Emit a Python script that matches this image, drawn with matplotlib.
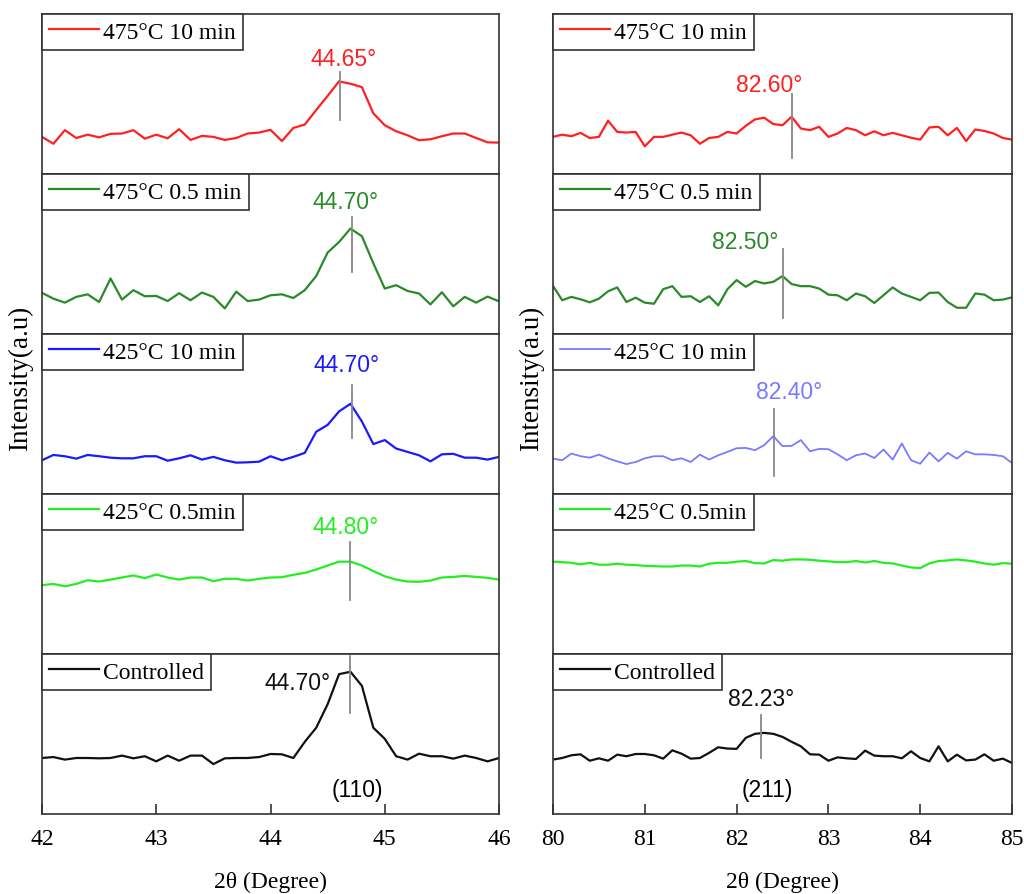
import numpy as np
import matplotlib
matplotlib.use("Agg")
import matplotlib.pyplot as plt

# 2-theta grids (0.1 degree steps)
theta_110 = np.round(np.arange(42.0, 46.0001, 0.1), 1)
theta_211 = np.round(np.arange(80.0, 85.0001, 0.1), 1)

labels = ["475°C 10 min", "475°C 0.5 min", "425°C 10 min", "425°C 0.5min", "Controlled"]

# intensities (arbitrary units, 0-100 per panel)
i110_475_10 = [23.2, 18.9, 27.4, 22.5, 24.6, 22.9, 25.1, 25.3, 27.4, 22.1, 24.6, 22.3, 28.0, 21.3,
               23.8, 23.2, 21.3, 22.5, 25.3, 25.9, 27.6, 20.6, 28.8, 30.9, 40.0, 48.8, 57.9, 56.4,
               54.3, 37.9, 30.5, 26.7, 24.2, 21.1, 21.7, 23.6, 25.3, 25.3, 22.5, 19.8, 19.6]
i110_475_05 = [25.7, 22.1, 19.6, 23.2, 24.8, 20.0, 34.7, 21.5, 27.4, 23.6, 23.8, 20.6, 25.5, 21.1,
               25.9, 23.2, 16.0, 26.5, 20.6, 21.5, 24.2, 24.8, 22.5, 27.4, 36.2, 50.9, 57.5, 65.9,
               61.1, 44.2, 28.4, 30.5, 26.9, 25.3, 18.5, 26.1, 17.3, 23.2, 19.6, 23.4, 20.4]
i110_425_10 = [21.1, 24.4, 23.6, 22.1, 24.4, 23.6, 22.7, 22.3, 22.3, 23.6, 23.6, 20.8, 22.3, 24.2,
               21.5, 23.2, 21.1, 19.6, 19.8, 20.2, 23.6, 21.1, 23.2, 25.7, 38.9, 43.2, 51.6, 56.4,
               45.3, 31.2, 33.7, 28.4, 26.3, 24.2, 20.4, 24.8, 25.1, 22.7, 22.7, 21.5, 23.2]
i110_425_05 = [43.0, 43.8, 42.3, 43.8, 46.1, 45.3, 46.5, 47.8, 49.1, 47.4, 49.7, 47.8, 46.5, 47.8,
               47.8, 45.5, 47.0, 47.0, 45.9, 47.0, 47.8, 48.0, 49.5, 50.7, 52.8, 55.3, 57.7, 57.7,
               55.3, 51.8, 48.6, 46.5, 45.3, 45.1, 45.9, 47.8, 48.2, 48.8, 48.2, 47.6, 46.5]
i110_ctrl = [35.0, 35.6, 34.0, 35.0, 35.0, 34.8, 35.0, 36.5, 34.8, 36.1, 32.9, 36.5, 33.3, 36.5,
             36.5, 31.2, 34.8, 35.0, 35.0, 35.6, 37.5, 37.3, 35.0, 45.1, 53.9, 68.6, 87.4, 88.9,
             80.1, 53.9, 47.0, 36.1, 34.0, 37.7, 36.1, 36.1, 34.6, 36.5, 35.0, 32.9, 35.0]

i211_475_10 = [23.2, 24.6, 23.6, 25.7, 22.5, 23.2, 33.3, 26.3, 25.9, 26.3, 17.3, 23.2, 23.2, 24.6,
               25.9, 24.2, 18.9, 22.5, 23.2, 26.3, 25.3, 30.1, 34.1, 35.2, 31.2, 30.5, 35.8, 28.4,
               27.4, 29.5, 23.2, 25.3, 28.8, 27.4, 24.2, 26.7, 24.2, 25.7, 24.2, 22.7, 21.5, 29.1,
               29.5, 24.2, 28.8, 20.6, 27.8, 26.9, 25.3, 22.5, 21.5]
i211_475_05 = [30.1, 21.1, 23.2, 21.7, 19.8, 22.1, 26.7, 29.1, 20.0, 22.7, 19.6, 18.9, 28.0, 29.9,
               23.2, 23.6, 20.0, 23.6, 17.9, 28.0, 33.7, 29.5, 33.1, 31.6, 32.6, 36.2, 31.2, 29.9,
               29.9, 28.4, 24.6, 24.2, 21.1, 25.3, 23.6, 19.4, 24.2, 29.1, 25.3, 23.2, 21.1, 25.7,
               25.9, 20.0, 16.4, 16.4, 25.3, 24.6, 21.1, 21.5, 22.9]
i211_425_10 = [22.1, 21.1, 25.3, 23.6, 22.7, 24.6, 22.3, 20.4, 18.7, 20.0, 22.3, 23.6, 23.6, 21.1,
               22.3, 20.0, 24.6, 21.5, 24.2, 26.3, 28.6, 28.8, 27.4, 30.5, 36.2, 29.9, 30.1, 33.7,
               26.7, 28.2, 28.0, 24.8, 21.1, 24.2, 25.3, 22.5, 27.8, 21.5, 31.6, 21.1, 18.9, 25.9,
               20.4, 25.7, 22.1, 26.7, 24.8, 24.8, 24.4, 23.6, 19.4]
i211_425_05 = [57.7, 57.4, 57.0, 56.0, 57.0, 55.8, 55.8, 56.4, 55.8, 55.6, 55.1, 54.9, 54.7, 54.7,
               55.3, 55.3, 54.7, 56.4, 57.0, 57.0, 57.7, 58.1, 56.8, 56.6, 58.7, 58.3, 59.1, 59.1,
               58.9, 58.3, 57.9, 57.4, 57.4, 58.1, 57.2, 58.1, 57.0, 56.6, 55.3, 54.1, 53.7, 56.6,
               58.1, 58.5, 59.1, 58.5, 57.7, 56.6, 55.8, 56.8, 56.4]
i211_ctrl = [34.0, 35.0, 36.7, 37.3, 33.3, 34.8, 33.3, 37.1, 36.1, 37.5, 37.5, 36.7, 34.6, 39.8,
             37.7, 34.6, 35.0, 38.2, 41.7, 40.9, 40.7, 47.6, 50.1, 50.7, 50.1, 48.2, 45.1, 42.3,
             37.3, 37.1, 33.3, 35.4, 34.8, 34.4, 39.6, 36.5, 36.1, 36.1, 34.8, 39.2, 35.0, 32.9,
             42.3, 32.9, 37.1, 33.5, 34.0, 37.3, 33.3, 34.6, 31.9]

# peak markers: position, marker y-range, label text, label x, label y
peaks_110 = [(44.61, 34, 64, "44.65°", 44.64, 72),
             (44.71, 39, 73, "44.70°", 44.66, 83),
             (44.71, 35, 68, "44.70°", 44.67, 81),
             (44.70, 34, 70, "44.80°", 44.66, 80),
             (44.70, 63, 99, "44.70°", 44.24, 82)]
peaks_211 = [(82.60, 10, 50, "82.60°", 82.36, 56),
             (82.51, 10, 53, "82.50°", 82.09, 58),
             (82.41, 11, 53, "82.40°", 82.57, 64),
             None,
             (82.27, 35, 62, "82.23°", 82.27, 72)]

colors_110 = ["#ff2020", "#2a8a2a", "#1a1aff", "#22ee22", "#111111"]
colors_211 = ["#ff2020", "#2a8a2a", "#7a7aff", "#22ee22", "#111111"]

serif = "Liberation Serif"
sans = "Liberation Sans"

fig = plt.figure(figsize=(10.24, 8.95), dpi=100)

cols = [
    (42 / 1024, 457 / 1024, theta_110, [i110_475_10, i110_475_05, i110_425_10, i110_425_05, i110_ctrl],
     colors_110, peaks_110, (42, 46), [42, 43, 44, 45, 46], "(110)", 44.76),
    (553 / 1024, 459 / 1024, theta_211, [i211_475_10, i211_475_05, i211_425_10, i211_425_05, i211_ctrl],
     colors_211, peaks_211, (80, 85), [80, 81, 82, 83, 84, 85], "(211)", 82.34),
]

top = 1 - 15 / 895
ph = 160 / 895

for left, width, x, series, colors, peaks, xlim, ticks, hkl, hkl_x in cols:
    for k in range(5):
        ax = fig.add_axes([left, top - (k + 1) * ph, width, ph])
        lw = 1.3 if (xlim[0] == 80 and k == 2) else 1.6
        ax.plot(x, series[k], color=colors[k], lw=lw, label=labels[k])
        ax.set_xlim(*xlim)
        ax.set_ylim(0, 100)
        ax.set_yticks([])
        for s in ax.spines.values():
            s.set_color("#333333")
            s.set_linewidth(1.2)
        p = peaks[k]
        if p is not None:
            ax.plot([p[0], p[0]], [p[1], p[2]], color="#888888", lw=1.3)
            ax.text(p[4], p[5], p[3], color=colors[k], fontsize=16.5, family=sans,
                    ha="center", va="center")
        leg = ax.legend(loc="upper left", borderaxespad=0, fancybox=False, framealpha=1,
                        edgecolor="#333333", handlelength=2.1, handletextpad=0.2,
                        borderpad=0.3, prop={"family": serif, "size": 17})
        leg.get_frame().set_linewidth(1.2)
        if k < 4:
            ax.set_xticks([])
        else:
            ax.set_xticks(ticks)
            ax.tick_params(axis="x", direction="in", length=7, width=1.2, color="#333333",
                           labelsize=17, pad=10)
            for t in ax.get_xticklabels():
                t.set_family(serif)
            ax.text(hkl_x, 15, hkl, fontsize=16.5, family=sans, ha="center", va="center")
            ax.set_xlabel("2θ (Degree)", family=serif, fontsize=17, labelpad=16)
    fig.text(left - 22 / 1024, 1 - 378 / 895, "Intensity(a.u)", rotation=90, family=serif,
             fontsize=19.5, ha="center", va="center")

fig.savefig("out.png", dpi=100)
